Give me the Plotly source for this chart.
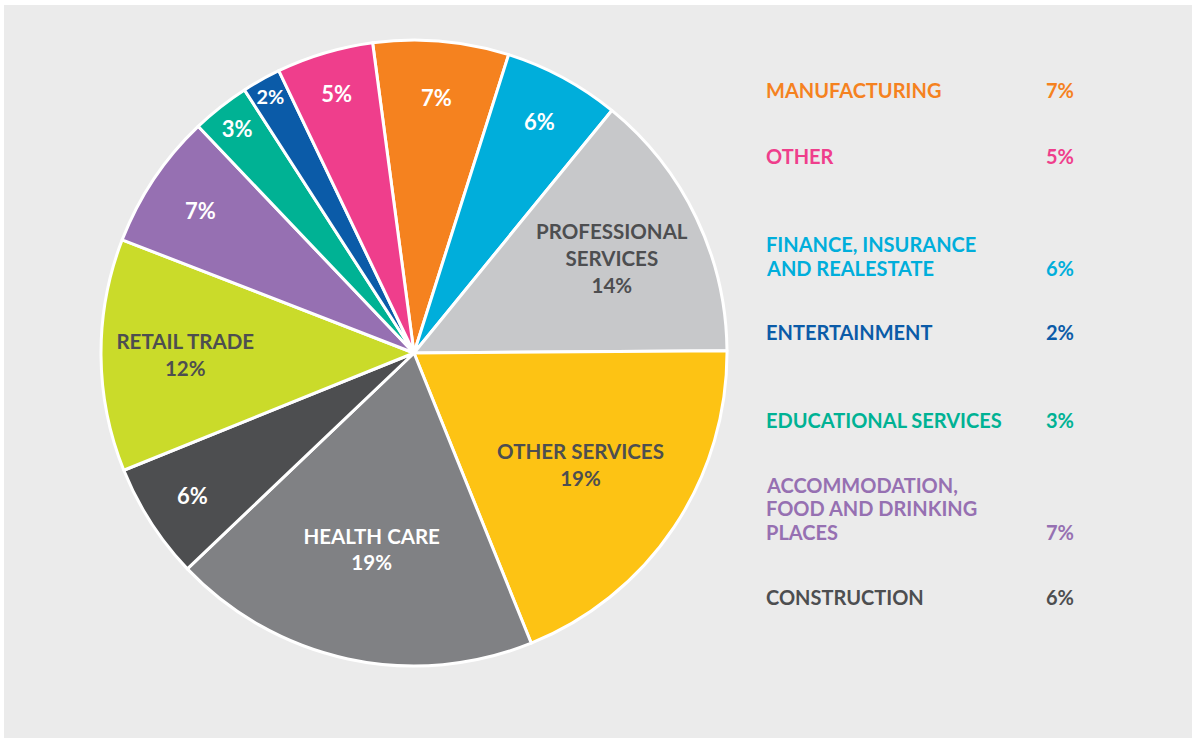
import plotly.graph_objects as go

categories = ["MANUFACTURING", "FINANCE, INSURANCE AND REALESTATE", "PROFESSIONAL SERVICES",
              "OTHER SERVICES", "HEALTH CARE", "CONSTRUCTION", "RETAIL TRADE",
              "ACCOMMODATION, FOOD AND DRINKING PLACES", "EDUCATIONAL SERVICES",
              "ENTERTAINMENT", "OTHER"]
values = [7, 6, 14, 19, 19, 6, 12, 7, 3, 2, 5]
colors = ["#F5821F", "#00AEDB", "#C7C8CA", "#FDC314", "#808184", "#4D4E50",
          "#CADB2A", "#9670B2", "#00B294", "#0B5BA8", "#EF3E8C"]
slice_labels = ["", "", "PROFESSIONAL<br>SERVICES", "OTHER SERVICES", "HEALTH CARE", "",
                "RETAIL TRADE", "", "", "", ""]
label_colors = ["white", "white", "#4D4E50", "#4D4E50", "white", "white",
                "#4D4E50", "white", "white", "white", "white"]

legend_order = ["MANUFACTURING", "OTHER", "FINANCE, INSURANCE AND REALESTATE", "ENTERTAINMENT",
                "EDUCATIONAL SERVICES", "ACCOMMODATION, FOOD AND DRINKING PLACES", "CONSTRUCTION"]
legend_lines = [["MANUFACTURING"], ["OTHER"], ["FINANCE, INSURANCE", "AND REALESTATE"],
                ["ENTERTAINMENT"], ["EDUCATIONAL SERVICES"],
                ["ACCOMMODATION,", "FOOD AND DRINKING", "PLACES"], ["CONSTRUCTION"]]
legend_top_px = [90, 156, 244, 332, 420, 485, 597]   # centre of first line of each entry
LINE_GAP = 23.5

W, H = 1192, 738
FONT = "Lato"

texts = []
for lab, v in zip(slice_labels, values):
    if lab:
        texts.append(f"{lab}<br>{v}%")
    else:
        texts.append(f"<span style='font-size:22px'>{v}%</span>")

fig = go.Figure()
fig.add_trace(go.Pie(
    labels=categories, values=values, sort=False, direction="clockwise",
    rotation=-7.6,
    marker=dict(colors=colors, line=dict(color="white", width=3)),
    text=texts, textinfo="text", textposition="inside",
    insidetextorientation="horizontal",
    insidetextfont=dict(family=FONT, size=20.5, color=label_colors, weight="bold"),
    domain=dict(x=[101 / W, 727 / W], y=[1 - 666 / H, 1 - 40 / H]),
    showlegend=False, hoverinfo="label+percent",
))

cmap = dict(zip(categories, colors))
vmap = dict(zip(categories, values))
for name, lines, y0 in zip(legend_order, legend_lines, legend_top_px):
    col = cmap[name]
    for i, ln in enumerate(lines):
        fig.add_annotation(x=764 / W, y=1 - (y0 + i * LINE_GAP) / H, xref="paper", yref="paper",
                           text=ln, showarrow=False, xanchor="left", yanchor="middle", align="left",
                           font=dict(family=FONT, size=20, color=col, weight="bold"))
    yp = y0 + (len(lines) - 1) * LINE_GAP
    fig.add_annotation(x=1076 / W, y=1 - yp / H, xref="paper", yref="paper",
                       text=f"{vmap[name]}%", showarrow=False, xanchor="right", yanchor="middle",
                       font=dict(family=FONT, size=20, color=col, weight="bold"))

fig.add_shape(type="rect", xref="paper", yref="paper", x0=4 / W, x1=1.01, y0=-0.01, y1=1 - 5 / H,
              fillcolor="#EBEBEB", line=dict(width=0), layer="below")

fig.update_layout(width=W, height=H, margin=dict(l=0, r=0, t=0, b=0),
                  paper_bgcolor="white", plot_bgcolor="white")
fig.write_html("out.html", config={"displayModeBar": False},
               post_script="document.body.style.margin='0';")
